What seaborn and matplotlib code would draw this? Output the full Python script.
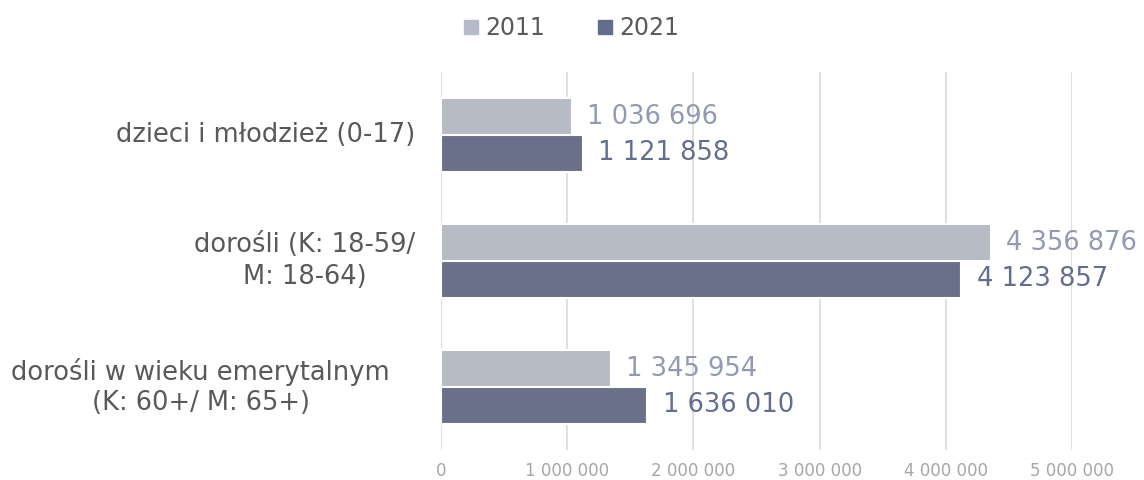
import pandas as pd
import matplotlib.pyplot as plt
import matplotlib.transforms as mtransforms
import seaborn as sns

# Data
categories = ['dzieci i młodzież (0-17)', 'dorośli (K: 18-59/\nM: 18-64)',
              'dorośli w wieku emerytalnym\n(K: 60+/ M: 65+)']
years = ['2011', '2021']
values_2011 = [1036696, 4356876, 1345954]
values_2021 = [1121858, 4123857, 1636010]
x_ticks = [0, 1000000, 2000000, 3000000, 4000000, 5000000]

df = pd.DataFrame({
    'kategoria': categories * 2,
    'rok': ['2011'] * 3 + ['2021'] * 3,
    'wartosc': values_2011 + values_2021,
})

sns.set_style('white')
plt.rcParams['font.family'] = ['DejaVu Sans']

colors = {'2011': '#b5bac8', '2021': '#636e8e'}
label_colors = {'2011': '#9299b0', '2021': '#636e8e'}


def fmt(v):
    return f'{v:,}'.replace(',', ' ')


fig = plt.figure(figsize=(11.44, 4.8), dpi=100)
ax = fig.add_axes([441 / 1144, 30 / 480, (1072 - 441) / 1144, 378 / 480])

sns.barplot(data=df, y='kategoria', x='wartosc', hue='rok', order=categories,
            hue_order=years, palette=colors, orient='h', width=0.58,
            edgecolor='white', linewidth=1.5, ax=ax, legend=False)

for cont, yr in zip(ax.containers, years):
    labels = [fmt(v) for v in (values_2011 if yr == '2011' else values_2021)]
    ax.bar_label(cont, labels=labels, padding=11, fontsize=18.5,
                 color=label_colors[yr], clip_on=False)

ax.set_xlim(0, 5000000)
ax.set_ylim(2.5, -0.5)
ax.set_xticks(x_ticks)
ax.set_xticklabels([fmt(v) for v in x_ticks], fontsize=12, color='#a6a6a6')
ax.tick_params(axis='x', length=0, pad=9)
ax.set_yticks(range(len(categories)))
ax.set_yticklabels([])
ax.tick_params(axis='y', length=0)

# category labels, centred lines like the original
offsets = [-26, -26, -51]
for i, (cat, off) in enumerate(zip(categories, offsets)):
    tr = ax.get_yaxis_transform() + mtransforms.ScaledTranslation(off / 100, 0, fig.dpi_scale_trans)
    ax.text(0, i, cat, transform=tr, ha='right', va='center', multialignment='center',
            fontsize=18.5, color='#595959', linespacing=1.25)

ax.grid(axis='x', color='#d9d9d9', linewidth=1.2)
ax.set_axisbelow(True)
for s in ax.spines.values():
    s.set_visible(False)
ax.set_xlabel('')
ax.set_ylabel('')

handles = [plt.Line2D([], [], marker='s', linestyle='', markersize=10,
                      color=colors[y]) for y in years]
fig.legend(handles, years, loc='center', bbox_to_anchor=(571 / 1144, 1 - 28 / 480),
           ncol=2, frameon=False, fontsize=17, labelcolor='#595959',
           handlelength=0.7, handletextpad=0.25, columnspacing=2.2)

plt.savefig('out.png', dpi=100)
plt.close()
